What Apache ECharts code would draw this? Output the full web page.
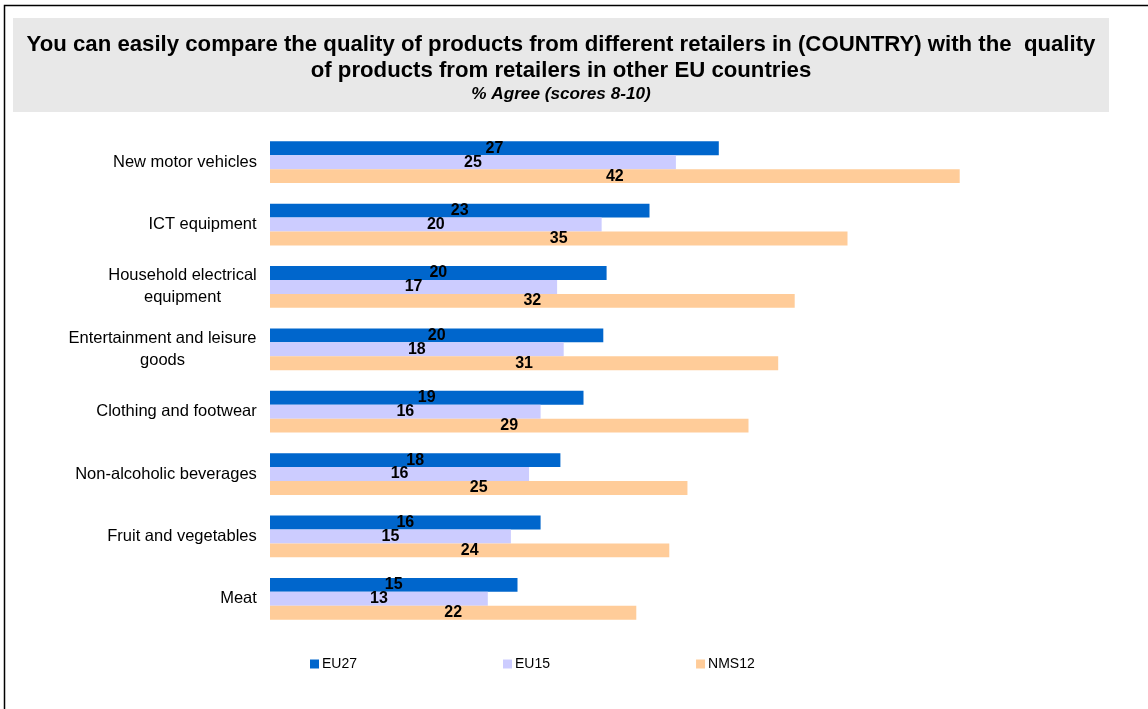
<!DOCTYPE html>
<html><head><meta charset="utf-8">
<script src="https://cdn.jsdelivr.net/npm/echarts@6/dist/echarts.min.js"></script>
<style>html,body{margin:0;padding:0;background:#fff}#c{width:1148px;height:709px}</style>
</head><body><div id="c"></div>
<script>
const categories = ["New motor vehicles","ICT equipment","Household electrical\nequipment","Entertainment and leisure\ngoods","Clothing and footwear","Non-alcoholic beverages","Fruit and vegetables","Meat"];
const eu27 = [27.2, 23.0, 20.4, 20.2, 19.0, 17.6, 16.4, 15.0];
const eu15 = [24.6, 20.1, 17.4, 17.8, 16.4, 15.7, 14.6, 13.2];
const nms12 = [41.8, 35.0, 31.8, 30.8, 29.0, 25.3, 24.2, 22.2];
const seriesNames = ["EU27","EU15","NMS12"];
const titleText = "You can easily compare the quality of products from different retailers in (COUNTRY) with the  quality\nof products from retailers in other EU countries";
const subtitleText = "% Agree (scores 8-10)";

const chart = echarts.init(document.getElementById('c'), null, {renderer:'canvas'});
const FONT = '"Liberation Sans", Arial, sans-serif';
const CAT_SIZE = 16.5;
const colors = ['#0066CC','#CCCCFF','#FFCC99'];

// measure widths so multi-line category labels are centred line by line
const ctx = document.createElement('canvas').getContext('2d');
ctx.font = CAT_SIZE + 'px ' + FONT;
const rich = {};
categories.forEach((c, i) => {
  const w = Math.max(...c.split('\n').map(s => ctx.measureText(s).width));
  rich['r' + i] = {width: Math.ceil(w), align: 'center', fontFamily: FONT, fontSize: CAT_SIZE, color: '#000', lineHeight: 22};
});

const lbl = {show:true, position:'inside', color:'#000', fontWeight:'bold', fontSize:16, fontFamily:FONT,
  formatter: p => Math.round(p.value)};
chart.setOption({
  animation:false,
  graphic:[
    {type:'rect', shape:{x:4.5,y:5.5,width:1300,height:900}, style:{fill:'none', stroke:'#000', lineWidth:1.5}, z:-10},
    {type:'rect', shape:{x:13,y:18,width:1096,height:94}, style:{fill:'#E8E8E8'}, z:-5}
  ],
  title:{text:titleText, subtext:subtitleText, left:556, top:27, textAlign:'center',
    textStyle:{fontFamily:FONT, fontSize:22.2, fontWeight:'bold', color:'#000', lineHeight:26},
    subtextStyle:{fontFamily:FONT, fontSize:17.2, fontWeight:'bold', fontStyle:'italic', color:'#000', lineHeight:18},
    itemGap:1},
  legend:{data:seriesNames, left:305, top:652, itemWidth:9, itemHeight:9, itemGap:146,
    icon:'rect', textStyle:{fontFamily:FONT, fontSize:14, color:'#000', padding:[0,0,0,-2]}},
  grid:{left:270, top:131, bottom:79, right:53, containLabel:false},
  xAxis:{type:'value', min:0, max:50, show:false},
  yAxis:{type:'category', data:categories, inverse:true,
    axisLine:{show:false}, axisTick:{show:false},
    axisLabel:{margin:13, align:'right', rich: rich,
      formatter: (v, i) => v.split('\n').map(s => '{r' + i + '|' + s + '}').join('\n')}},
  series:[
    {name:seriesNames[0], type:'bar', data:eu27, itemStyle:{color:colors[0]}, barGap:'0%', barCategoryGap:'33%', label:lbl},
    {name:seriesNames[1], type:'bar', data:eu15, itemStyle:{color:colors[1]}, barGap:'0%', barCategoryGap:'33%', label:lbl},
    {name:seriesNames[2], type:'bar', data:nms12, itemStyle:{color:colors[2]}, barGap:'0%', barCategoryGap:'33%', label:lbl}
  ]
});
</script></body></html>
